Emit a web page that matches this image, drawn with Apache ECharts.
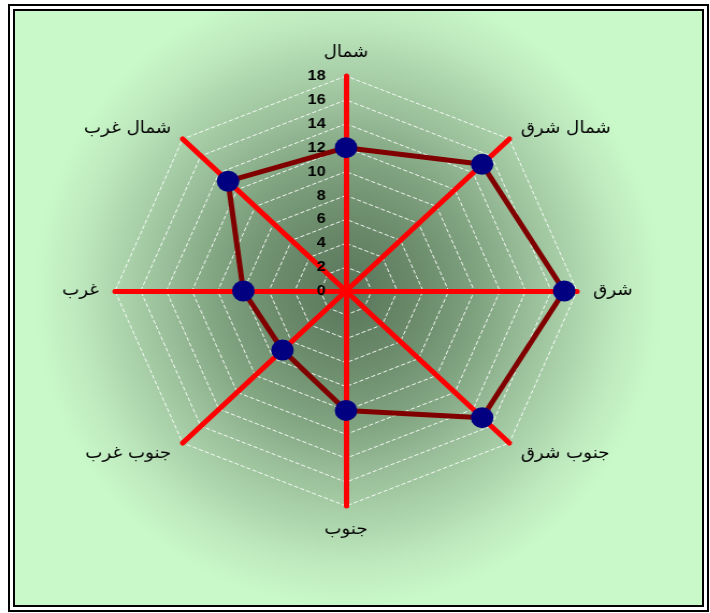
<!DOCTYPE html>
<html><head><meta charset="utf-8">
<script src="https://cdn.jsdelivr.net/npm/echarts@6/dist/echarts.min.js"></script>
<style>
html,body{margin:0;padding:0;width:710px;height:613px;overflow:hidden;background:#fff}
#outer{position:absolute;left:8px;top:4px;width:701px;height:608px;box-sizing:border-box;border:2px solid #000;background:#fff}
#inner{position:absolute;left:13px;top:9px;width:691px;height:598px;box-sizing:border-box;border:2px solid #000;
background:radial-gradient(circle 315px at 333px 282px,#59755a 0%,#6a8a6a 22%,#80a380 42%,#99be99 58%,#aed6ae 74%,#bfeabf 87%,#c9f9c9 100%)}
#chart{position:absolute;left:0;top:0;width:710px;height:613px;transform:scaleX(1.0744);transform-origin:346px 291px}
</style></head>
<body>
<div id="outer"></div><div id="inner"></div>
<div id="chart"></div>
<script>
// counter-clockwise from north (ECharts radar order)
const directions = ['شمال','شمال غرب','غرب','جنوب غرب','جنوب','جنوب شرق','شرق','شمال شرق'];
const values = [12,13,8,7,10,15,17,15];
const axisMin = 0;
const axisMax = 18;
const axisSplits = 9;

const chart = echarts.init(document.getElementById('chart'), null, {renderer:'canvas'});
const indicatorsGrid = directions.map(n => ({name:n, min:axisMin, max:axisMax}));
const indicatorsMain = directions.map((n,i) => {
  const o = {name:n, min:axisMin, max:axisMax};
  if (i === 0) o.axisLabel = {show:true, color:'#000', fontSize:15, fontWeight:'bold', fontFamily:'Liberation Sans, Arial, sans-serif', margin:19};
  return o;
});
chart.setOption({
  animation:false,
  backgroundColor:'transparent',
  radar:[{
    center:[346,291], radius:215, startAngle:90, splitNumber:axisSplits, shape:'polygon', z:0,
    indicator:indicatorsGrid,
    axisName:{show:false},
    axisLine:{show:false}, axisTick:{show:false}, axisLabel:{show:false},
    splitArea:{show:false},
    splitLine:{show:true, lineStyle:{color:'rgba(255,255,255,0.9)', width:1, type:[4,2]}}
  },{
    center:[346,291], radius:215, startAngle:90, splitNumber:axisSplits, shape:'polygon', z:1,
    indicator:indicatorsMain,
    nameGap:15,
    axisName:{show:true, color:'#000', fontSize:17, fontFamily:'DejaVu Sans, sans-serif'},
    axisLine:{show:true, lineStyle:{color:'#ff0000', width:5}},
    axisTick:{show:false},
    axisLabel:{show:false},
    splitArea:{show:false},
    splitLine:{show:false}
  }],
  series:[{
    type:'radar', radarIndex:1, z:2,
    symbol:'circle', symbolSize:21,
    itemStyle:{color:'#000080', borderWidth:0},
    lineStyle:{color:'#800000', width:5},
    data:[{value:values}]
  }]
});
</script>
</body></html>
